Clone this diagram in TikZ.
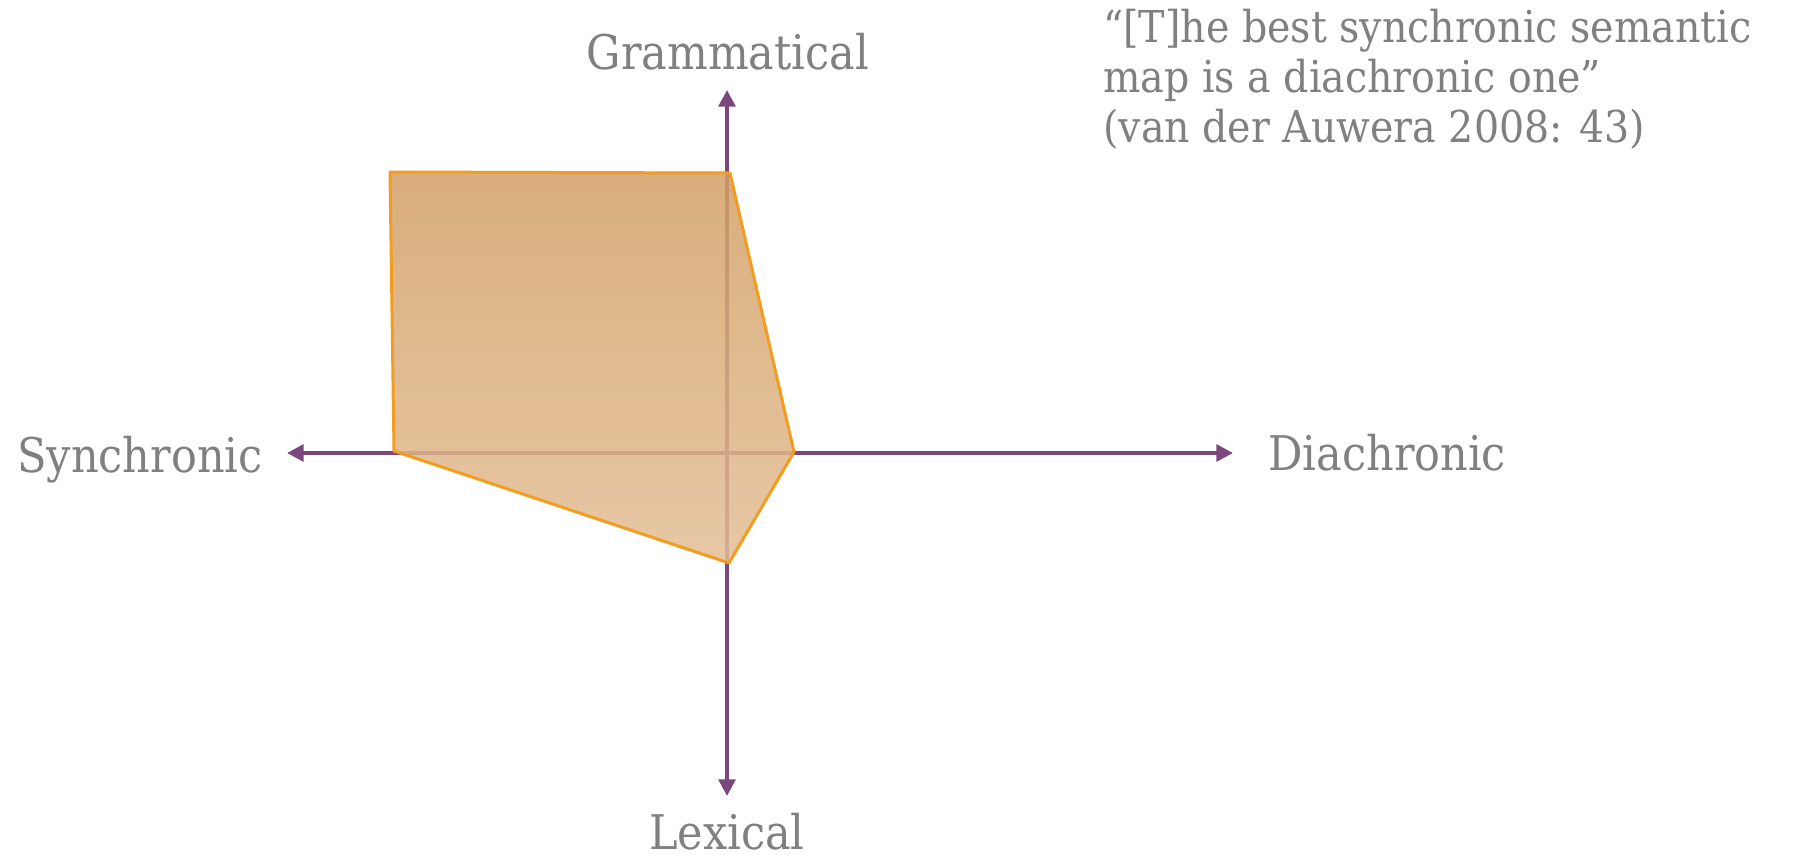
\documentclass[tikz,border=0pt]{standalone}
\usepackage{fontspec}
\setmainfont{DejaVu Serif Condensed}
\usepackage{xcolor}
\usetikzlibrary{arrows.meta, positioning, calc}
\definecolor{axispurple}{RGB}{123,72,126}
\definecolor{labelgray}{RGB}{128,128,128}
\definecolor{mapedge}{RGB}{243,156,31}
\definecolor{maptop}{RGB}{210,160,100}
\definecolor{mapbottom}{RGB}{228,190,150}

\begin{document}
\begin{tikzpicture}[
  x=0.02cm, y=-0.02cm,
  axis/.style={line width=2.3pt, axispurple, -{Triangle[length=9.5pt, width=9.5pt]}},
  lbl/.style={font=\fontsize{27.2}{30}\selectfont, text=labelgray, inner sep=0pt},
  quote/.style={font=\fontsize{25}{28.5}\selectfont, text=labelgray, inner sep=0pt, align=left},
  region/.style={draw=mapedge, line width=1.7pt, line join=round, top color=maptop, bottom color=mapbottom, fill opacity=0.85}
]
  \useasboundingbox (0,0) rectangle (1798,858);

  % Axes
  \coordinate (o) at (727,453);
  \coordinate (west) at (287,453);
  \coordinate (east) at (1233,453);
  \coordinate (north) at (727,90);
  \coordinate (south) at (727,796);
  \draw[axis] (o) -- (west);
  \draw[axis] (o) -- (east);
  \draw[axis] (o) -- (north);
  \draw[axis] (o) -- (south);

  % Semantic map region
  \coordinate (p1) at (390,172);
  \coordinate (p2) at (730,173);
  \coordinate (p3) at (794,452);
  \coordinate (p4) at (729,563);
  \coordinate (p5) at (394,451);
  \path[region] (p1) -- (p2) -- (p3) -- (p4) -- (p5) -- cycle;

  % Axis labels
  \node[lbl, anchor=base] (gram) at (728,70) {Grammatical};
  \node[lbl, anchor=base] (lex) at (727,849) {Lexical};
  \node[lbl, anchor=base west] (sync) at (17,472) {Synchronic};
  \node[lbl, anchor=base west] (diac) at (1268,470) {Diachronic};

  % Quotation
  \node[quote, anchor=north west] (cite) at (1103,9)
    {``[T]he best synchronic semantic\\map is a diachronic one''\\(van der Auwera 2008: 43)};
\end{tikzpicture}
\end{document}
